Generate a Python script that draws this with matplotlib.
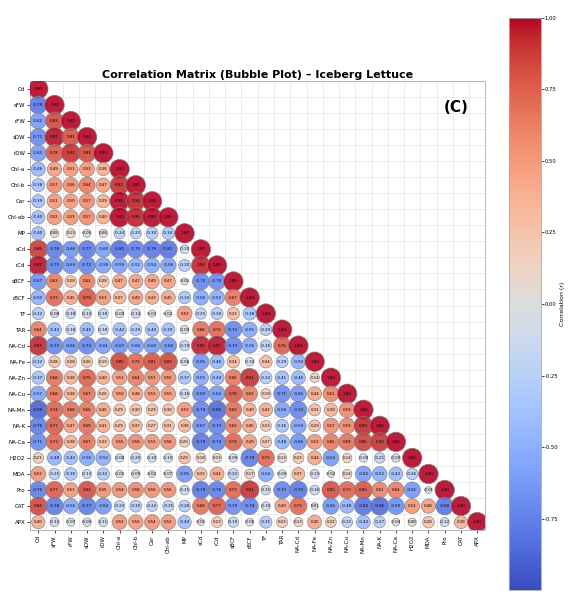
import numpy as np
import matplotlib
matplotlib.use("Agg")
import matplotlib.pyplot as plt
from matplotlib.cm import ScalarMappable
from matplotlib.colors import Normalize
from matplotlib.ticker import FormatStrFormatter

variables = ["Cd", "sFW", "rFW", "sDW", "rDW", "Chl-a", "Chl-b", "Car", "Chl-ab", "MP",
             "sCd", "rCd", "sBCF", "rBCF", "TF", "TAR", "NA-Cd", "NA-Fe", "NA-Zn", "NA-Cu",
             "NA-Mn", "NA-K", "NA-Ca", "H2O2", "MDA", "Pro", "CAT", "APX"]

# Lower-triangle Pearson correlations, row i holds r(i, 0..i)
lower_rows = [
    [1.00],
    [-0.79, 1.00],
    [-0.62, 0.83, 1.00],
    [-0.71, 0.97, 0.81, 1.00],
    [-0.63, 0.78, 0.92, 0.83, 1.00],
    [-0.46, 0.49, 0.51, 0.53, 0.38, 1.00],
    [-0.38, 0.57, 0.56, 0.64, 0.47, 0.92, 1.00],
    [-0.39, 0.51, 0.50, 0.57, 0.39, 0.99, 0.94, 1.00],
    [-0.40, 0.52, 0.53, 0.57, 0.40, 1.00, 0.95, 0.99, 1.00],
    [-0.40, 0.08, 0.13, -0.06, 0.08, -0.24, -0.23, -0.30, -0.34, 1.00],
    [0.88, -0.76, -0.66, -0.77, -0.60, -0.81, -0.75, -0.79, -0.81, -0.10, 1.00],
    [0.97, -0.75, -0.64, -0.72, -0.58, -0.59, -0.51, -0.54, -0.58, -0.30, 0.94, 1.00],
    [-0.67, 0.63, 0.28, 0.62, 0.28, 0.47, 0.47, 0.49, 0.47, -0.02, -0.72, -0.70, 1.00],
    [-0.50, 0.72, 0.45, 0.79, 0.53, 0.37, 0.49, 0.43, 0.45, -0.34, -0.56, -0.52, 0.67, 1.00],
    [-0.32, -0.08, -0.18, -0.13, -0.18, -0.09, -0.14, -0.03, -0.02, 0.53, -0.25, -0.30, 0.33,
     -0.38, 1.00],
    [0.64, -0.43, -0.18, -0.45, -0.18, -0.42, -0.29, -0.40, -0.39, -0.09, 0.68, 0.72, -0.72,
     -0.55, -0.29, 1.00],
    [0.93, -0.72, -0.66, -0.72, -0.61, -0.67, -0.60, -0.63, -0.66, -0.19, 0.95, 0.97, -0.73,
     -0.56, -0.26, 0.76, 1.00],
    [-0.32, 0.28, 0.28, 0.26, 0.19, 0.85, 0.72, 0.81, 0.83, -0.06, -0.65, -0.46, 0.34,
     -0.10, 0.34, -0.29, -0.50, 1.00],
    [-0.37, 0.68, 0.38, 0.75, 0.40, 0.51, 0.64, 0.57, 0.55, -0.37, -0.55, -0.44, 0.66,
     0.91, -0.32, -0.41, -0.45, 0.14, 1.00],
    [-0.57, 0.68, 0.38, 0.67, 0.26, 0.50, 0.48, 0.53, 0.50, -0.16, -0.69, -0.63, 0.78,
     0.62, 0.19, -0.71, -0.65, 0.44, 0.61, 1.00],
    [-0.89, 0.74, 0.68, 0.66, 0.45, 0.29, 0.30, 0.29, 0.30, 0.53, -0.74, -0.85, 0.69,
     0.40, 0.42, -0.58, -0.74, 0.31, 0.39, 0.59, 1.00],
    [-0.76, 0.77, 0.47, 0.69, 0.41, 0.29, 0.37, 0.27, 0.31, 0.36, -0.67, -0.73, 0.62,
     0.45, 0.23, -0.36, -0.59, 0.29, 0.57, 0.59, 0.93, 1.00],
    [-0.71, 0.73, 0.38, 0.67, 0.33, 0.55, 0.58, 0.53, 0.56, 0.20, -0.79, -0.74, 0.74,
     0.49, 0.27, -0.48, -0.66, 0.53, 0.65, 0.69, 0.86, 0.90, 1.00],
    [0.21, -0.48, -0.42, -0.56, -0.52, -0.08, -0.20, -0.10, -0.10, 0.29, 0.18, 0.13, -0.09,
     -0.78, 0.73, 0.13, 0.23, 0.44, -0.63, 0.14, -0.09, -0.21, -0.09, 1.00],
    [0.53, -0.25, -0.35, -0.13, -0.32, -0.05, -0.09, -0.02, -0.07, -0.65, 0.33, 0.44, -0.23,
     0.17, -0.54, -0.09, 0.37, -0.13, -0.02, 0.14, -0.62, -0.52, -0.43, -0.26, 1.00],
    [-0.76, 0.77, 0.51, 0.82, 0.55, 0.54, 0.58, 0.56, 0.56, -0.15, -0.79, -0.76, 0.73,
     0.91, -0.15, -0.73, -0.79, -0.16, 0.82, 0.73, 0.80, 0.61, 0.64, -0.65, -0.01, 1.00],
    [0.84, -0.78, -0.56, -0.77, -0.64, -0.22, -0.30, -0.22, -0.25, -0.28, 0.68, 0.77, -0.70,
     -0.74, -0.10, 0.49, 0.73, 0.01, -0.65, -0.48, -0.82, -0.85, -0.69, 0.53, 0.48, -0.80,
     1.00],
    [0.40, -0.12, -0.07, -0.09, -0.11, 0.52, 0.50, 0.54, 0.52, -0.40, -0.01, 0.23, -0.19,
     -0.06, -0.31, 0.23, 0.13, 0.45, 0.22, -0.22, -0.43, -0.27, -0.04, 0.08, 0.28, -0.12,
     0.38, 1.00],
]

panel_tag = "(C)"
title = "Correlation Matrix (Bubble Plot) – Iceberg Lettuce"

n = len(variables)
xs, ys, rs = [], [], []
for i, row in enumerate(lower_rows):
    for j, r in enumerate(row):
        xs.append(j)
        ys.append(i)
        rs.append(r)
xs = np.array(xs)
ys = np.array(ys)
rs = np.array(rs)

fig = plt.figure(figsize=(5.69, 5.95), dpi=100)
ax = fig.add_axes([0.053, 0.109, 0.800, 0.755])
cax = fig.add_axes([0.895, 0.008, 0.055, 0.962])

cmap = plt.get_cmap("coolwarm")
norm = Normalize(vmin=-1, vmax=1)

sizes = 22 + 175 * np.abs(rs)
ax.scatter(xs, ys, s=sizes, c=rs, cmap=cmap, norm=norm, alpha=0.9,
           edgecolors="grey", linewidths=0.5, zorder=3)
for x, y, r in zip(xs, ys, rs):
    ax.text(x, y, f"{r:.2f}", ha="center", va="center", fontsize=2.8,
            color="black", zorder=4)

ax.set_xlim(-0.5, n - 0.5)
ax.set_ylim(n - 0.5, -0.5)
ax.set_xticks(range(n))
ax.set_yticks(range(n))
ax.set_xticklabels(variables, rotation=90, fontsize=4)
ax.set_yticklabels(variables, fontsize=4)
ax.tick_params(length=2, width=0.5, pad=1.5)
ax.set_xticks(np.arange(-0.5, n, 1), minor=True)
ax.set_yticks(np.arange(-0.5, n, 1), minor=True)
ax.tick_params(which="minor", length=0)
ax.grid(which="minor", color="#e4e4e4", linewidth=0.5, zorder=0)
ax.grid(which="major", visible=False)
for sp in ax.spines.values():
    sp.set_color("#aaaaaa")
    sp.set_linewidth(0.6)

ax.set_title(title, fontsize=8, fontweight="bold", pad=2)
ax.text(0.935, 0.94, panel_tag, transform=ax.transAxes, fontsize=11,
        fontweight="bold", ha="center", va="center")

sm = ScalarMappable(norm=norm, cmap=cmap)
cb = fig.colorbar(sm, cax=cax)
cb.set_ticks([-0.75, -0.5, -0.25, 0, 0.25, 0.5, 0.75, 1.0])
cb.ax.yaxis.set_major_formatter(FormatStrFormatter("%.2f"))
cb.ax.tick_params(labelsize=3.8, length=2, width=0.5, pad=1)
cb.set_label("Correlation (r)", fontsize=4.5, labelpad=1.5)
cb.outline.set_edgecolor("#aaaaaa")
cb.outline.set_linewidth(0.6)

fig.savefig("out.png", dpi=100)
